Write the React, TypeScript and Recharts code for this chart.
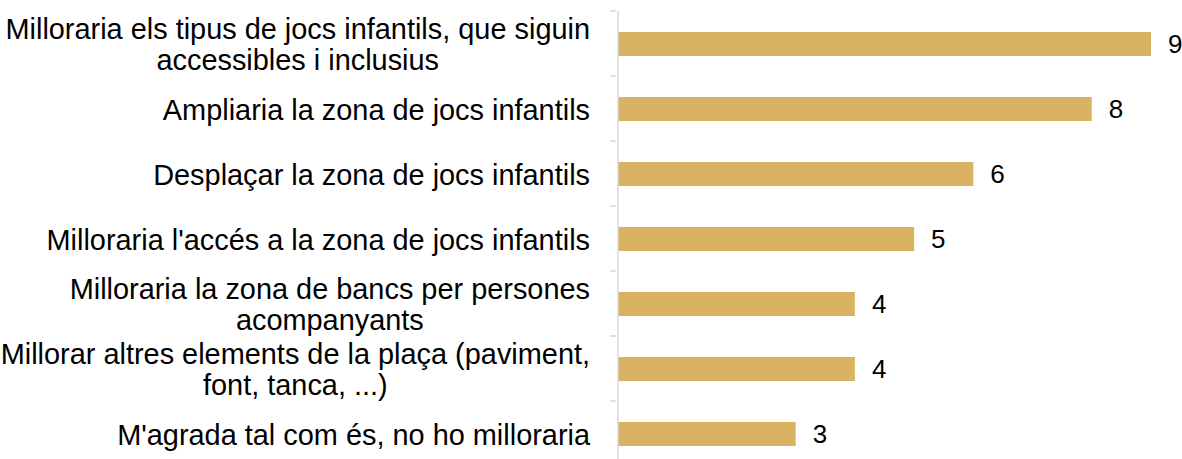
import React from 'react';
import { BarChart, Bar, XAxis, YAxis, LabelList } from 'recharts';

const categories = [
  "Milloraria els tipus de jocs infantils, que siguin\naccessibles i inclusius",
  "Ampliaria la zona de jocs infantils",
  "Desplaçar la zona de jocs infantils",
  "Milloraria l'accés a la zona de jocs infantils",
  "Milloraria la zona de bancs per persones\nacompanyants",
  "Millorar altres elements de la plaça (paviment,\nfont, tanca, ...)",
  "M'agrada tal com és, no ho milloraria",
];
const values = [9, 8, 6, 5, 4, 4, 3];

const data = categories.map((name, i) => ({ name, value: values[i] }));

const FONT = '"Liberation Sans", Arial, sans-serif';
const FONT_SIZE = 28.9;
const VALUE_SIZE = 26;
const CHART_W = 1182;
const CHART_H = 470;
const MARGIN = { top: 11, right: 31, bottom: 4, left: 0 };
const AXIS_W = 618;
const BAND = (CHART_H - MARGIN.top - MARGIN.bottom) / categories.length;

let ctx: CanvasRenderingContext2D | null = null;
const measure = (s: string) => {
  if (!ctx) ctx = document.createElement('canvas').getContext('2d');
  if (!ctx) return s.length * FONT_SIZE * 0.5;
  ctx.font = `${FONT_SIZE}px ${FONT}`;
  return ctx.measureText(s).width;
};

// label right-aligned on its widest line, other lines centred under it
const CategoryTick = (props: any) => {
  const { x, y, payload } = props;
  const lines: string[] = String(payload.value).split('\n');
  const lineH = 31;
  const right = x - 20;
  const widest = Math.max(...lines.map(measure));
  const cx = right - widest / 2;
  const startY = y + 1 - ((lines.length - 1) * lineH) / 2;
  return (
    <g>
      <line x1={x} x2={x + 6} y1={y - BAND / 2} y2={y - BAND / 2} stroke="#d9d9d9" strokeWidth={1.5} />
      <text
        x={cx}
        y={startY}
        textAnchor="middle"
        dominantBaseline="central"
        fontFamily={FONT}
        fontSize={FONT_SIZE}
        fill="#000"
      >
        {lines.map((l, i) => (
          <tspan key={i} x={cx} y={startY + i * lineH}>{l}</tspan>
        ))}
      </text>
    </g>
  );
};

export default function App() {
  return (
    <div style={{ position: 'fixed', left: 0, top: 0, width: CHART_W, height: 459, overflow: 'hidden', background: '#fff' }}>
      <BarChart
        width={CHART_W}
        height={CHART_H}
        data={data}
        layout="vertical"
        margin={MARGIN}
        barCategoryGap={0}
      >
        <XAxis type="number" domain={[0, 9]} hide />
        <YAxis
          type="category"
          dataKey="name"
          width={AXIS_W}
          axisLine={{ stroke: '#d9d9d9', strokeWidth: 1.5 }}
          tickLine={false}
          tick={<CategoryTick />}
          interval={0}
        />
        <Bar dataKey="value" fill="#D9B362" barSize={24} isAnimationActive={false}>
          <LabelList
            dataKey="value"
            position="right"
            offset={17}
            fill="#000"
            fontSize={VALUE_SIZE}
            fontFamily={FONT}
          />
        </Bar>
      </BarChart>
    </div>
  );
}
